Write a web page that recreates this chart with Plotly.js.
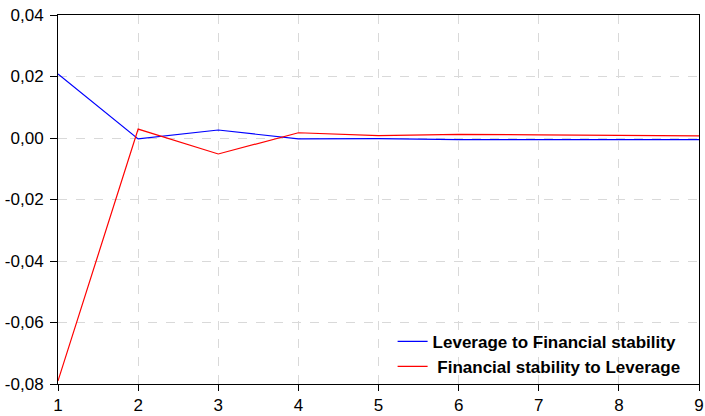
<!DOCTYPE html>
<html>
<head>
<meta charset="utf-8">
<script src="https://cdn.plot.ly/plotly-3.0.1.min.js"></script>
<style>html,body{margin:0;padding:0;background:#fff;}#chart{width:705px;height:416px;}</style>
</head>
<body>
<div id="chart"></div>
<script>
const periods = [1, 2, 3, 4, 5, 6, 7, 8, 9];
const leverageToFinStab = [0.0208, -0.0003, 0.0026, -0.0003, -0.0002, -0.0005, -0.0005, -0.0004, -0.0005];
const finStabToLeverage = [-0.0790, 0.0029, -0.0052, 0.0017, 0.0008, 0.0012, 0.0010, 0.0008, 0.0007];
const seriesNames = ["Leverage to Financial stability", "\u00a0Financial stability to Leverage"];
const yTicks = [-0.08, -0.06, -0.04, -0.02, 0.00, 0.02, 0.04];
const yTickLabels = ["-0,08", "-0,06", "-0,04", "-0,02", "0,00", "0,02", "0,04"];
const xTickLabels = ["1", "2", "3", "4", "5", "6", "7", "8", "9"];

const traces = [
  {x: periods, y: leverageToFinStab, type: "scatter", mode: "lines", name: seriesNames[0],
   line: {color: "#0000ff", width: 1.2}},
  {x: periods, y: finStabToLeverage, type: "scatter", mode: "lines", name: seriesNames[1],
   line: {color: "#ff0000", width: 1.2}}
];

const layout = {
  width: 705, height: 416,
  margin: {l: 58, r: 6, t: 15, b: 32},
  paper_bgcolor: "#fff", plot_bgcolor: "#fff",
  font: {family: "Liberation Sans, Arial, sans-serif", size: 17, color: "#000"},
  showlegend: true,
  legend: {x: 0.522, y: -0.002, xanchor: "left", yanchor: "bottom", bgcolor: "rgba(255,255,255,0)",
           font: {size: 17, weight: "bold"}, tracegroupgap: 0, itemwidth: 30},
  xaxis: {range: [1, 9], tickvals: periods, ticktext: xTickLabels, ticks: "outside", ticklen: 6, tickcolor: "#000",
          showline: true, linecolor: "#000", linewidth: 1, mirror: true,
          showgrid: true, gridcolor: "#d9d9d9", griddash: "dash", gridwidth: 1, zeroline: false,
          tickfont: {size: 17}},
  yaxis: {range: [-0.08, 0.04], tickvals: yTicks, ticktext: yTickLabels, ticks: "outside", ticklen: 7,
          ticklabelstandoff: 3,
          tickcolor: "#000", showline: true, linecolor: "#000", linewidth: 1, mirror: true,
          showgrid: true, gridcolor: "#d9d9d9", griddash: "dash", gridwidth: 1, zeroline: false,
          tickfont: {size: 17}}
};

Plotly.newPlot("chart", traces, layout, {displayModeBar: false, staticPlot: true});
</script>
</body>
</html>
